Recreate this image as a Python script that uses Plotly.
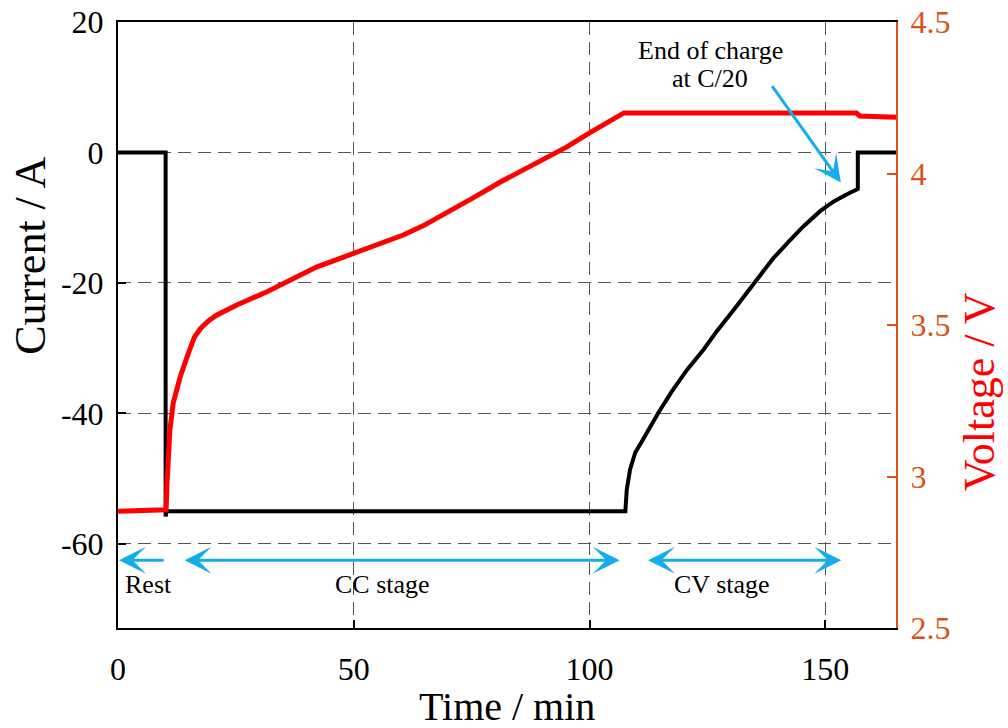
import plotly.graph_objects as go

# Current profile (A) vs time (min): rest, constant-current, constant-voltage
time_current = [0, 10.1, 10.1, 10.3, 107.6, 107.9, 108.6, 109.7, 111.1, 112.9, 114.6,
                117.5, 120.7, 124.2, 127.0, 130.6, 133.4, 136.2, 139.0, 142.6, 145.4,
                148.9, 151.8, 154.6, 156.9, 156.9, 165]
current = [0, 0, -55.8, -55, -55, -51.7, -48.6, -46.0, -44.3, -42.0, -39.9,
           -36.6, -33.3, -30.2, -27.4, -24.1, -21.5, -18.7, -16.2, -13.4, -11.3,
           -9.0, -7.5, -6.4, -5.6, 0, 0]

# Cell voltage (V) vs time (min)
time_voltage = [0, 10.0, 10.2, 10.4, 10.7, 11.0, 11.7, 13.2, 14.9, 16.2, 17.6, 19.3,
                21.0, 25.2, 31.6, 37.2, 42.2, 46.4, 49.9, 53.0, 56.3, 60.5, 64.8, 68.3,
                70.4, 75.5, 81.1, 85.5, 89.5, 95.2, 100.1, 104.0, 107.3, 120, 140, 156.6,
                157.3, 160, 165]
voltage = [2.885, 2.89, 2.89, 2.98, 3.09, 3.153, 3.242, 3.329, 3.406, 3.46, 3.49, 3.515,
           3.533, 3.566, 3.610, 3.654, 3.692, 3.716, 3.736, 3.753, 3.772, 3.797, 3.828, 3.857,
           3.876, 3.921, 3.972, 4.008, 4.041, 4.088, 4.135, 4.169, 4.2, 4.2, 4.2, 4.2,
           4.19, 4.188, 4.186]

x_ticks = [0, 50, 100, 150]
current_ticks = [-60, -40, -20, 0, 20]
current_tick_text = ["-60", "-40", "-20", "0", "20"]
voltage_ticks = [2.5, 3, 3.5, 4, 4.5]
voltage_tick_text = ["2.5", "3", "3.5", "4", "4.5"]

# Stage markers: (tail_t, head_t, label, label_t, arrow sides)
arrow_y = -62.5
label_y = -66.3
stages = [
    (10.0, 0.2, "Rest", 6.4, "end"),
    (13.8, 106.4, "CC stage", 56.2, "end+start"),
    (112.1, 153.4, "CV stage", 128.2, "end+start"),
]

FONT = "Liberation Serif, Times New Roman, serif"
ORANGE = "#D95319"
CYAN = "#12AEEB"
GRID = dict(showgrid=True, gridcolor="#555555", gridwidth=1.2, griddash="13px,7px")

fig = go.Figure()
fig.add_trace(go.Scatter(x=time_current, y=current, mode="lines",
                         line=dict(color="black", width=4), yaxis="y", showlegend=False))
fig.add_trace(go.Scatter(x=time_voltage, y=voltage, mode="lines",
                         line=dict(color="#FF0000", width=5), yaxis="y2", showlegend=False))

annotations = []
for tail, head, label, lt, side in stages:
    annotations.append(dict(x=head, y=arrow_y, ax=tail, ay=arrow_y, xref="x", yref="y",
                            axref="x", ayref="y", text="", showarrow=True, arrowhead=3,
                            arrowside=side, arrowsize=1.5, arrowwidth=3, arrowcolor=CYAN))
    annotations.append(dict(x=lt, y=label_y, xref="x", yref="y", text=label, showarrow=False,
                            font=dict(family=FONT, size=26, color="black")))

# Pointer to the end-of-charge step
annotations.append(dict(x=153.3, y=-4.6, ax=138.5, ay=10.4, xref="x", yref="y",
                        axref="x", ayref="y", text="", showarrow=True, arrowhead=3,
                        arrowsize=1.5, arrowwidth=3, arrowcolor=CYAN))
annotations.append(dict(x=125.6, y=15.7, xref="x", yref="y", text="End of charge",
                        showarrow=False, font=dict(family=FONT, size=26, color="black")))
annotations.append(dict(x=125.6, y=11.4, xref="x", yref="y", text="at C/20",
                        showarrow=False, font=dict(family=FONT, size=26, color="black")))

# Axis titles
annotations.append(dict(x=-0.1125, y=0.615, xref="paper", yref="paper", text="Current / A",
                        textangle=-90, showarrow=False, xanchor="center", yanchor="middle",
                        font=dict(family=FONT, size=44, color="black")))
annotations.append(dict(x=1.1075, y=0.39, xref="paper", yref="paper", text="Voltage / V",
                        textangle=-90, showarrow=False, xanchor="center", yanchor="middle",
                        font=dict(family=FONT, size=44, color="#FF0000")))
annotations.append(dict(x=0.5, y=-0.13, xref="paper", yref="paper", text="Time / min",
                        showarrow=False, xanchor="center", yanchor="middle",
                        font=dict(family=FONT, size=40, color="black")))

fig.update_layout(
    width=1008, height=728,
    margin=dict(l=118, r=112, t=22, b=100, autoexpand=False),
    paper_bgcolor="white", plot_bgcolor="white",
    font=dict(family=FONT, color="black"),
    xaxis=dict(range=[0, 165], tickvals=x_ticks, ticks="inside", ticklen=8, tickwidth=2,
               tickcolor="black", showline=True, linecolor="black", linewidth=2,
               mirror=True, zeroline=False, tickfont=dict(size=32), ticklabelstandoff=12,
               automargin=False, **GRID),
    yaxis=dict(range=[-72.9, 20], tickvals=current_ticks, ticktext=current_tick_text,
               ticks="inside", ticklen=8, tickwidth=2, tickcolor="black", showline=True,
               linecolor="black", linewidth=2, zeroline=False, tickfont=dict(size=32),
               ticklabelstandoff=6, automargin=False, **GRID),
    yaxis2=dict(range=[2.5, 4.5], tickvals=voltage_ticks, ticktext=voltage_tick_text,
                overlaying="y", side="right", ticks="inside", ticklen=9, tickwidth=2,
                tickcolor=ORANGE, showline=True, linecolor=ORANGE, linewidth=2,
                showgrid=False, zeroline=False, ticklabelstandoff=6, automargin=False,
                tickfont=dict(size=32, color=ORANGE)),
    annotations=annotations,
)

fig.write_html("out.html")
